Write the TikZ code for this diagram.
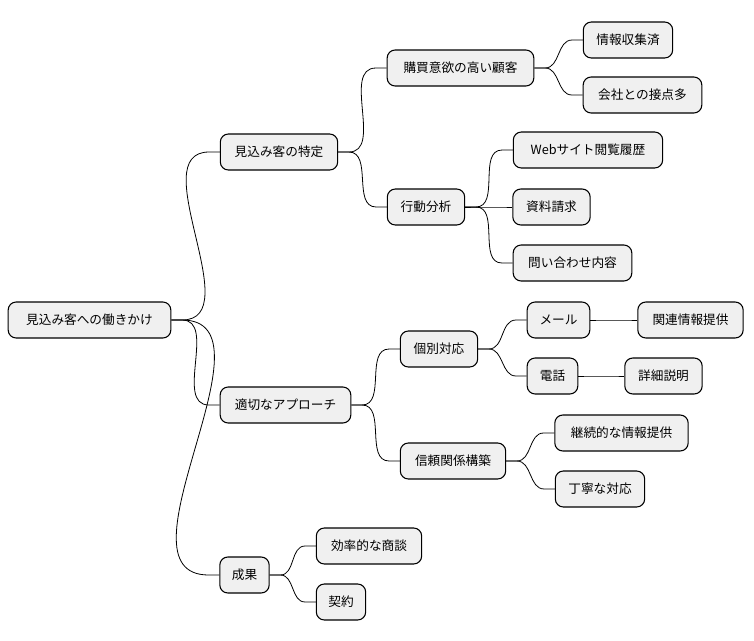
\documentclass[tikz,border=0pt]{standalone}
\usepackage{fontspec}
\setmainfont{Noto Sans CJK JP}
\begin{document}
\begin{tikzpicture}[x=1pt,y=-1pt,
  n/.style={draw=black,fill=black!6,rounded corners=6pt,line width=0.8pt,inner sep=0pt,minimum height=27pt,font=\fontsize{9.5pt}{11pt}\selectfont},
  e/.style={line width=0.6pt}]
\useasboundingbox (0,0) rectangle (565.5,480);
\def\N#1#2#3#4#5{\node[n,minimum width=#4pt] (#1) at (#2*0.75,#3*0.75) {#5};}
\N{r}{89.5}{320}{122}{見込み客への働きかけ}
\N{a}{279}{152}{88}{見込み客の特定}
\N{b}{285.5}{405}{98}{適切なアプローチ}
\N{c}{244.5}{575}{37}{成果}
\N{a1}{460.5}{68}{110}{購買意欲の高い顧客}
\N{a2}{426}{207}{58}{行動分析}
\N{a11}{628}{40}{67}{情報収集済}
\N{a12}{642.5}{95}{89}{会社との接点多}
\N{a21}{588}{150}{112}{Webサイト閲覧履歴}
\N{a22}{551.5}{207}{58}{資料請求}
\N{a23}{572.5}{263}{89}{問い合わせ内容}
\N{b1}{439}{349}{58}{個別対応}
\N{b2}{453}{461}{79}{信頼関係構築}
\N{b11}{558.5}{320}{47}{メール}
\N{b12}{552.5}{376}{38}{電話}
\N{b111}{690.5}{320}{79}{関連情報提供}
\N{b121}{663.5}{376}{58}{詳細説明}
\N{b21}{621.5}{433}{100}{継続的な情報提供}
\N{b22}{600}{489}{67}{丁寧な対応}
\N{c1}{369}{546}{79}{効率的な商談}
\N{c2}{341}{602}{37}{契約}
\foreach \p/\c in {r/a,r/b,r/c,a/a1,a/a2,a1/a11,a1/a12,a2/a21,a2/a22,a2/a23,b/b1,b/b2,b1/b11,b1/b12,b11/b111,b12/b121,b2/b21,b2/b22,c/c1,c/c2}
  \draw[e] (\p.east) -- ++(8,0) to[out=0,in=180] ([xshift=-8pt]\c.west) -- (\c.west);
\end{tikzpicture}
\end{document}
